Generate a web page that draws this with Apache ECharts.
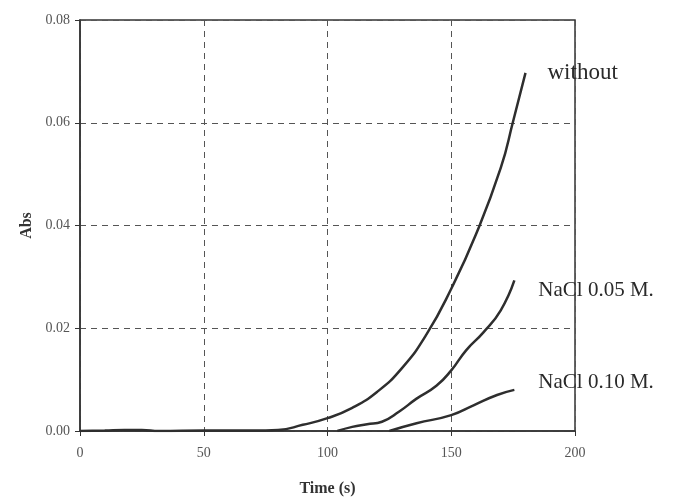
<!DOCTYPE html>
<html>
<head>
    <meta charset="utf-8">
    <title>Abs vs Time</title>
    <script src="https://cdn.jsdelivr.net/npm/echarts@6/dist/echarts.min.js"></script>
</head>
<body style="margin:0">
    <div id="main" style="width: 689px;height:500px;"></div>
    <script type="text/javascript">
        // values
        var timeWithout = [0, 10, 18, 25, 32, 50, 70, 80, 90, 100, 110, 120, 130, 140, 150, 160, 170, 175, 180];
        var absWithout = [0, 0.0001, 0.0002, 0.0002, 0, 0.0001, 0.0001, 0.0002, 0.0012, 0.0025, 0.0045, 0.0076, 0.0122, 0.0188, 0.0277, 0.0383, 0.0512, 0.0603, 0.0697];

        var time005 = [104, 110, 116, 122, 129, 136, 144, 150, 156, 163, 170, 175.5];
        var abs005 = [0, 0.0008, 0.0013, 0.0018, 0.0038, 0.0063, 0.0088, 0.0118, 0.0157, 0.0192, 0.0235, 0.0293];

        var time010 = [125, 136, 150, 159, 168.5, 175.5];
        var abs010 = [0, 0.0015, 0.0031, 0.005, 0.007, 0.008];

        var seriesNames = ['without', 'NaCl 0.05 M.', 'NaCl 0.10 M.'];
        var yTicks = [0, 0.02, 0.04, 0.06, 0.08];

        function pairs(xs, ys) {
            var out = [];
            for (var i = 0; i < xs.length; i++) {
                out.push([xs[i], ys[i]]);
            }
            return out;
        }

        var myChart = echarts.init(document.getElementById('main'));

        var lineColor = '#2e2e2e';
        var serif = '"Liberation Serif", "DejaVu Serif", serif';

        function makeSeries(name, data, offset, size) {
            return {
                name: name,
                type: 'line',
                data: data,
                smooth: 0.5,
                symbol: 'none',
                lineStyle: { color: lineColor, width: 2.5 },
                endLabel: {
                    show: true,
                    formatter: name,
                    fontFamily: serif,
                    fontSize: size,
                    color: '#2a2a2a',
                    offset: offset
                }
            };
        }

        var option = {
            animation: false,
            grid: {
                show: true,
                left: 80,
                top: 20,
                right: 114,
                bottom: 69,
                outerBoundsMode: 'none',
                borderColor: '#333',
                borderWidth: 1.5
            },
            xAxis: {
                type: 'value',
                min: 0,
                max: 200,
                interval: 50,
                name: 'Time (s)',
                nameLocation: 'middle',
                nameGap: 50,
                nameTextStyle: { fontFamily: serif, fontWeight: 'bold', fontSize: 16, color: '#333' },
                axisLine: { show: true, lineStyle: { color: '#333', width: 1.5 } },
                axisTick: { show: true, length: 5, lineStyle: { color: '#333' } },
                axisLabel: { fontFamily: serif, fontSize: 14, color: '#555', margin: 15 },
                splitLine: { show: true, lineStyle: { color: '#555', type: [6, 5], width: 1 } }
            },
            yAxis: {
                type: 'value',
                min: yTicks[0],
                max: yTicks[yTicks.length - 1],
                interval: 0.02,
                name: 'Abs',
                nameLocation: 'middle',
                nameGap: 38,
                nameTextStyle: { fontFamily: serif, fontWeight: 'bold', fontSize: 16, color: '#333' },
                axisLine: { show: true, lineStyle: { color: '#333', width: 1.5 } },
                axisTick: { show: true, length: 5, lineStyle: { color: '#333' } },
                axisLabel: {
                    fontFamily: serif, fontSize: 14, color: '#555', margin: 10,
                    formatter: function (v) { return v.toFixed(2); }
                },
                splitLine: { show: true, lineStyle: { color: '#555', type: [6, 5], width: 1 } }
            },
            series: [
                makeSeries(seriesNames[0], pairs(timeWithout, absWithout), [14, 0], 23),
                makeSeries(seriesNames[1], pairs(time005, abs005), [16, 10], 21),
                makeSeries(seriesNames[2], pairs(time010, abs010), [16, -7], 21)
            ]
        };

        myChart.setOption(option);
    </script>
</body>
</html>
